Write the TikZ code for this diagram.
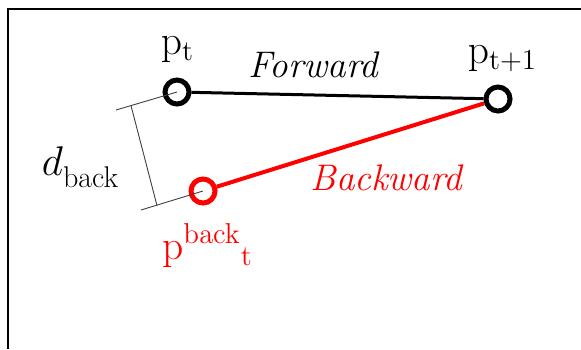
\documentclass[tikz,border=0pt]{standalone}
\usepackage{amsmath}
\usepackage{tikz}
\usetikzlibrary{positioning}

\begin{document}
\begin{tikzpicture}[
  x=0.5pt, y=-0.5pt,
  ptnode/.style={circle, draw, line width=2.5pt, minimum size=12pt, inner sep=0pt},
  fwdline/.style={line width=1.5pt},
  bwdline/.style={red, line width=2pt},
  dimline/.style={black!75, line width=0.45pt},
  lbl/.style={anchor=base, inner sep=0pt, font=\fontsize{20}{23}\selectfont},
  dirlbl/.style={anchor=base, inner sep=0pt, font=\fontsize{18.5}{21}\selectfont\itshape}
]
\useasboundingbox (0,0) rectangle (581,349);
\draw[line width=1pt] (7.5,349) |- (581,9);

% points
\node[ptnode] (pt) at (177,92) {};
\node[ptnode] (pt1) at (498,99) {};
\node[ptnode, red] (pb) at (203,191) {};

% trajectories
\draw[fwdline] (pt) -- (pt1);
\draw[bwdline] (pb) -- (pt1);

% distance between p_t and its back estimate
\coordinate (e1) at (116,110);
\coordinate (e2) at (141,210);
\coordinate (d1) at (131,105.6);
\coordinate (d2) at (157,205.6);
\draw[dimline] (pt.center) -- (e1);
\draw[dimline] (pb.center) -- (e2);
\draw[dimline] (d1) -- (d2);

% labels
\node[lbl] (ptl) at (177.5,54) {$\mathrm{p}_{\mathrm{t}}$};
\node[lbl] (pt1l) at (502.5,63) {$\mathrm{p}_{\mathrm{t+1}}$};
\node[lbl, red] (pbl) at (207.5,259) {$\mathrm{p}^{\mathrm{back}}{}_{\mathrm{t}}$};
\node[dirlbl] (fwd) at (313.5,77) {Forward};
\node[dirlbl, red] (bwd) at (386.5,190) {Backward};
\node[anchor=base, inner sep=0pt, font=\fontsize{22}{25}\selectfont] (dl) at (80,175)
  {$d$\raisebox{-6pt}{\fontsize{15}{17}\selectfont back}};
\end{tikzpicture}
\end{document}
